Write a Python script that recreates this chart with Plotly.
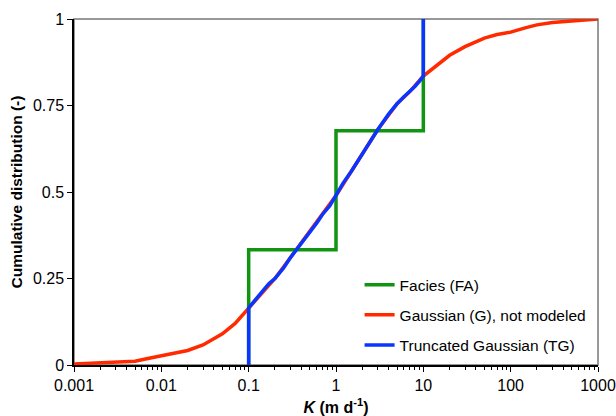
import plotly.graph_objects as go

g_k = [0.001, 0.002, 0.003, 0.005, 0.007, 0.01, 0.015, 0.02, 0.03, 0.05, 0.07, 0.1,
       0.15, 0.2, 0.3, 0.5, 0.7, 1, 1.5, 2, 3, 5, 7, 10, 15, 20, 30, 50, 70, 100,
       150, 200, 300, 500, 700, 1000]
g_cdf = [0.003, 0.006, 0.008, 0.011, 0.019, 0.026, 0.034, 0.042, 0.058, 0.09, 0.12, 0.165,
         0.215, 0.25, 0.31, 0.385, 0.435, 0.49, 0.56, 0.61, 0.68, 0.755, 0.79, 0.835, 0.87, 0.895,
         0.92, 0.945, 0.955, 0.962, 0.975, 0.983, 0.99, 0.995, 0.998, 1.0]

# Truncated Gaussian (TG)
tg_k = [0.1, 0.1, 0.13, 0.17, 0.2, 0.25, 0.3, 0.4, 0.5, 0.6, 0.7, 0.85, 1, 1.2, 1.5,
        2, 2.5, 3, 4, 5, 6, 7, 8, 9, 10, 10]
tg_cdf = [0.0, 0.165, 0.2, 0.235, 0.25, 0.28, 0.31, 0.35, 0.385, 0.41, 0.435, 0.46, 0.49,
          0.525, 0.56, 0.61, 0.645, 0.68, 0.725, 0.755, 0.775, 0.79, 0.805, 0.82, 0.835, 1.0]

# Facies (FA) step CDF
fa_k = [0.1, 0.1, 1, 1, 10, 10]
fa_cdf = [0.0, 0.333, 0.333, 0.677, 0.677, 1.0]

x_ticks = [0.001, 0.01, 0.1, 1, 10, 100, 1000]
x_labels = ["0.001", "0.01", "0.1", "1", "10", "100", "1000"]
y_ticks = [0, 0.25, 0.5, 0.75, 1]
y_labels = ["0", "0.25", "0.5", "0.75", "1"]

FONT = "Liberation Sans, Arial, Helvetica, sans-serif"

fig = go.Figure()
fig.add_trace(go.Scatter(x=g_k, y=g_cdf, mode="lines", name="Gaussian (G), not modeled",
                         line=dict(color="#FF2A00", width=3.5), legendrank=2, legendgroup="g"))
fig.add_trace(go.Scatter(x=fa_k, y=fa_cdf, mode="lines", name="Facies (FA)",
                         line=dict(color="#119411", width=3.5), legendrank=1, legendgroup="fa"))
fig.add_trace(go.Scatter(x=tg_k, y=tg_cdf, mode="lines", name="Truncated Gaussian (TG)",
                         line=dict(color="#0A35FF", width=3.5), legendrank=3, legendgroup="tg"))

fig.update_layout(
    width=616, height=416,
    margin=dict(l=74, r=18, t=19, b=51),
    paper_bgcolor="white", plot_bgcolor="white",
    font=dict(family=FONT, size=16, color="black"),
    showlegend=True,
    legend=dict(x=0.545, y=0.28, xanchor="left", yanchor="top", bgcolor="rgba(0,0,0,0)",
                font=dict(size=15.5), tracegroupgap=7, itemwidth=30),
    shapes=[dict(type="rect", xref="paper", yref="paper", x0=0, y0=0, x1=1, y1=1,
                 line=dict(color="#777777", width=1.5), layer="below")],
)
fig.update_xaxes(type="log", range=[-3, 3], tickvals=x_ticks, ticktext=x_labels,
                 automargin=False,
                 showgrid=False, zeroline=False, showline=True, linecolor="black", linewidth=1.5,
                 ticks="outside", ticklen=5, tickcolor="black",
                 minor=dict(dtick="D1", ticks="outside", ticklen=3, tickcolor="black", showgrid=False),
                 title=dict(text="<b><i>K</i> (m d<sup>-1</sup>)</b>", font=dict(size=16), standoff=9))
fig.update_yaxes(range=[0, 1], tickvals=y_ticks, ticktext=y_labels,
                 automargin=False,
                 showgrid=False, zeroline=False, showline=True, linecolor="black", linewidth=1.5,
                 ticks="outside", ticklen=5, tickcolor="black",
                 title=dict(text="<b>Cumulative distribution (-)</b>", font=dict(size=15.5), standoff=6))

fig.write_html("out.html")
